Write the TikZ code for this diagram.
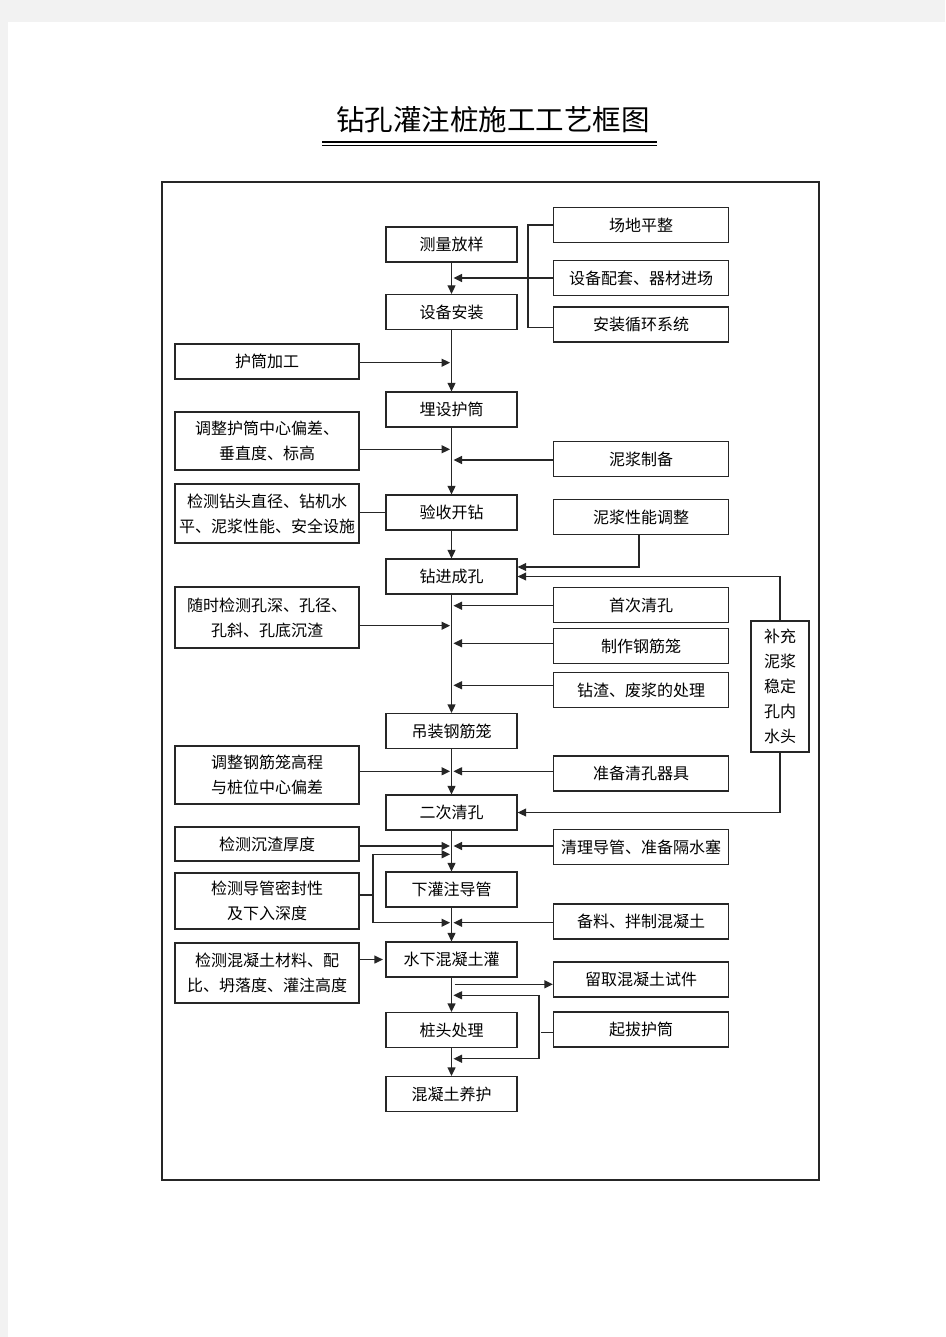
\documentclass[tikz,border=0pt]{standalone}
\usepackage{fontspec}
\setmainfont{Noto Sans CJK SC}
\usetikzlibrary{arrows.meta}
\begin{document}
\begin{tikzpicture}[x=1pt,y=-1pt,
  bx/.style={draw=black!85, line width=1.3pt, fill=white, inner sep=0pt, align=center, font=\fontsize{16}{25}\selectfont},
  mbox/.style={bx, minimum width=131pt, minimum height=35pt},
  rbox/.style={bx, minimum width=175pt, minimum height=35pt},
  lbox/.style={bx, minimum width=184pt},
  ln/.style={draw=black!85, line width=1.3pt},
  arr/.style={ln, -{Triangle[length=8.5pt,width=8pt]}}]
\useasboundingbox (0,0) rectangle (945,1337);
\fill[black!5] (0,0) rectangle (945,1337);
\fill[white] (8,22) rectangle (945,1337);
% title
\node[font=\fontsize{28.5}{30}\selectfont, inner sep=0pt] (title) at (493,120) {钻孔灌注桩施工工艺框图};
\draw[line width=1.8pt] (322,142) -- (657,142);
\draw[line width=1.1pt] (322,145.5) -- (657,145.5);
% frame
\draw[line width=1.8pt, black!85] (162,182) rectangle (819,1180);
% main column
\node[mbox] (mA) at (451.5,244.5) {测量放样};
\node[mbox] (mB) at (451.5,312) {设备安装};
\node[mbox] (mC) at (451.5,409.5) {埋设护筒};
\node[mbox] (mD) at (451.5,512.5) {验收开钻};
\node[mbox] (mE) at (451.5,576.5) {钻进成孔};
\node[mbox] (mF) at (451.5,731) {吊装钢筋笼};
\node[mbox] (mG) at (451.5,812.5) {二次清孔};
\node[mbox] (mH) at (451.5,889.5) {下灌注导管};
\node[mbox] (mI) at (451.5,959.5) {水下混凝土灌};
\node[mbox] (mJ) at (451.5,1030) {桩头处理};
\node[mbox] (mK) at (451.5,1094) {混凝土养护};
% right boxes
\node[rbox] (r1) at (641,225) {场地平整};
\node[rbox] (r2) at (641,278) {设备配套、器材进场};
\node[rbox] (r3) at (641,324.5) {安装循环系统};
\node[rbox] (r4) at (641,459) {泥浆制备};
\node[rbox] (r5) at (641,517) {泥浆性能调整};
\node[rbox] (r6) at (641,605) {首次清孔};
\node[rbox] (r7) at (641,646) {制作钢筋笼};
\node[rbox] (r8) at (641,690) {钻渣、废浆的处理};
\node[rbox] (r9) at (641,773.5) {准备清孔器具};
\node[rbox] (r10) at (641,847) {清理导管、准备隔水塞};
\node[rbox] (r11) at (641,921.5) {备料、拌制混凝土};
\node[rbox] (r12) at (641,979.5) {留取混凝土试件};
\node[rbox] (r13) at (641,1029.5) {起拔护筒};
% left boxes
\node[lbox, minimum height=35pt] (l1) at (267,361.5) {护筒加工};
\node[lbox, minimum height=58pt] (l2) at (267,441) {调整护筒中心偏差、\\垂直度、标高};
\node[lbox, minimum height=59pt] (l3) at (267,513.5) {检测钻头直径、钻机水\\平、泥浆性能、安全设施};
\node[lbox, minimum height=61pt] (l4) at (267,617.5) {随时检测孔深、孔径、\\孔斜、孔底沉渣};
\node[lbox, minimum height=58pt] (l5) at (267,775) {调整钢筋笼高程\\与桩位中心偏差};
\node[lbox, minimum height=34pt] (l6) at (267,844) {检测沉渣厚度};
\node[lbox, minimum height=56pt] (l7) at (267,901) {检测导管密封性\\及下入深度};
\node[lbox, minimum height=60pt] (l8) at (267,973) {检测混凝土材料、配\\比、坍落度、灌注高度};
% side box
\node[bx, minimum width=58pt, minimum height=131pt] (s) at (780,686.5) {补充\\泥浆\\稳定\\孔内\\水头};
% junctions on main line
\coordinate (j1) at (451.5,278);
\coordinate (j2) at (451.5,362.7);
\coordinate (j3) at (451.5,449.3);
\coordinate (j4) at (451.5,460);
\coordinate (j5) at (451.5,605.7);
\coordinate (j6) at (451.5,625.7);
\coordinate (j7) at (451.5,643.3);
\coordinate (j8) at (451.5,685.3);
\coordinate (j9) at (451.5,771.3);
\coordinate (j10) at (451.5,846);
\coordinate (j11) at (451.5,854.3);
\coordinate (j12) at (451.5,922.7);
\coordinate (j13) at (451.5,984.3);
\coordinate (j14) at (451.5,995.3);
\coordinate (j15) at (451.5,1058.7);
% main flow
\draw[arr] (mA) -- (mB);
\draw[arr] (mB) -- (mC);
\draw[arr] (mC) -- (mD);
\draw[arr] (mD) -- (mE);
\draw[arr] (mE) -- (mF);
\draw[arr] (mF) -- (mG);
\draw[arr] (mG) -- (mH);
\draw[arr] (mH) -- (mI);
\draw[arr] (mI) -- (mJ);
\draw[arr] (mJ) -- (mK);
% top bracket
\coordinate (t2) at (528,327.7);
\draw[ln] (r1.west) -| (t2) -- (t2 -| r3.west);
\draw[arr] (r2.west) -- ([xshift=2pt]j1);
% left arrows
\draw[arr] (l1.east |- j2) -- ([xshift=-1.5pt]j2);
\draw[arr] (l2.east |- j3) -- ([xshift=-1.5pt]j3);
\draw[arr] (l4.east |- j6) -- ([xshift=-1.5pt]j6);
\draw[arr] (l5.east |- j9) -- ([xshift=-1.5pt]j9);
\draw[arr] (l6.east |- j10) -- ([xshift=-1.5pt]j10);
\draw[ln] (l3.east |- mD.west) -- (mD.west);
\draw[arr] (l8.east |- mI.west) -- ([xshift=-2.5pt]mI.west);
% l7 bracket
\coordinate (k1) at (373,854.3);
\coordinate (k2) at (373,922.7);
\draw[ln] ([yshift=6pt]l7.east) -- ([yshift=6pt]l7.east -| k1);
\draw[ln] (k1) -- (k2);
\draw[arr] (k1) -- ([xshift=-1.5pt]j11);
\draw[arr] (k2) -- ([xshift=-1.5pt]j12);
% right arrows
\draw[arr] (r4.west |- j4) -- ([xshift=2pt]j4);
\draw[arr] (r6.west |- j5) -- ([xshift=2pt]j5);
\draw[arr] (r7.west |- j7) -- ([xshift=2pt]j7);
\draw[arr] (r8.west |- j8) -- ([xshift=2pt]j8);
\draw[arr] (r9.west |- j9) -- ([xshift=2pt]j9);
\draw[arr] (r10.west |- j10) -- ([xshift=2pt]j10);
\draw[arr] (r11.west |- j12) -- ([xshift=2pt]j12);
% mud adjustment and side box
\draw[arr] ([xshift=-2pt]r5.south) |- ([yshift=9.5pt]mE.east);
\draw[arr] (s.north) |- (mE.east);
\draw[arr] (s.south) |- (mG.east);
% bottom part
\draw[arr] ([xshift=3pt]j13) -- (r12.west |- j13);
\coordinate (q1) at (539,995.3);
\coordinate (q2) at (539,1058.7);
\draw[ln] ([yshift=-3pt]r13.west) -- ++(-11.5,0);
\draw[ln] (q1) -- (q2);
\draw[arr] (q1) -- ([xshift=2pt]j14);
\draw[arr] (q2) -- ([xshift=2pt]j15);
\end{tikzpicture}
\end{document}
